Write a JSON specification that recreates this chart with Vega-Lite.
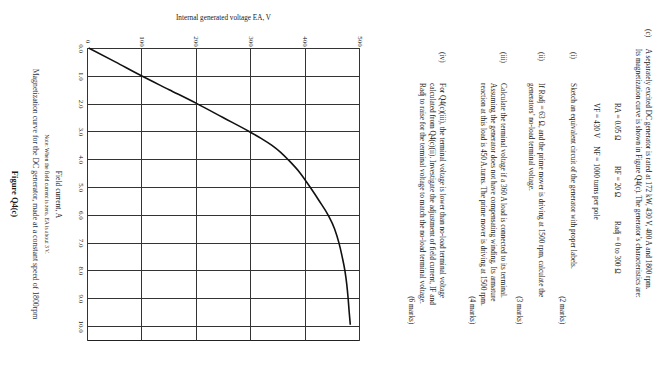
{
  "$schema": "https://vega.github.io/schema/vega-lite/v6.json",
  "background": "white",
  "padding": {"left": 0, "top": 13, "right": 10, "bottom": 5},
  "bounds": "flush",
  "spacing": 7,
  "config": {
    "view": {"stroke": null},
    "font": "Liberation Serif",
    "text": {"font": "Liberation Serif", "color": "#1a1a1a"}
  },
  "hconcat": [
    {
      "width": 80,
      "height": 292,
      "data": {
        "values": [
          {"text": "Figure Q4(c)", "line": 1.5, "kind": "figure"},
          {"text": "Magnetization curve for the DC generator, made at a constant speed of 1800rpm", "line": 3.5, "kind": "caption"},
          {"text": "Note: When the field current is zero, EA is about 3 V.", "line": 4.7, "kind": "note"}
        ]
      },
      "encoding": {
        "x": {"field": "line", "type": "quantitative", "scale": {"domain": [0, 8], "nice": false}, "axis": null},
        "text": {"field": "text", "type": "nominal"}
      },
      "layer": [
        {
          "transform": [{"filter": "datum.kind === 'figure'"}],
          "mark": {"type": "text", "angle": 90, "align": "center", "baseline": "middle", "fontSize": 8.5, "fontWeight": "bold"}
        },
        {
          "transform": [{"filter": "datum.kind === 'caption'"}],
          "mark": {"type": "text", "angle": 90, "align": "center", "baseline": "middle", "fontSize": 7.8, "color": "#2a3550"}
        },
        {
          "transform": [{"filter": "datum.kind === 'note'"}],
          "mark": {"type": "text", "angle": 90, "align": "center", "baseline": "middle", "fontSize": 5.6}
        }
      ]
    },
    {
      "width": 272,
      "height": 292,
      "view": {"stroke": "#222", "strokeWidth": 1},
      "data": {
        "values": [
          {"IF": 0.0, "EA": 3},
          {"IF": 0.5, "EA": 52},
          {"IF": 1.0, "EA": 100},
          {"IF": 1.5, "EA": 151},
          {"IF": 2.0, "EA": 202},
          {"IF": 2.5, "EA": 250},
          {"IF": 3.0, "EA": 298},
          {"IF": 3.25, "EA": 320},
          {"IF": 3.5, "EA": 340},
          {"IF": 3.75, "EA": 356},
          {"IF": 4.0, "EA": 369},
          {"IF": 4.5, "EA": 392},
          {"IF": 5.0, "EA": 410},
          {"IF": 5.5, "EA": 427},
          {"IF": 6.0, "EA": 443},
          {"IF": 6.5, "EA": 455},
          {"IF": 7.0, "EA": 463},
          {"IF": 7.5, "EA": 469},
          {"IF": 8.0, "EA": 474},
          {"IF": 8.5, "EA": 477.5},
          {"IF": 9.0, "EA": 480},
          {"IF": 9.5, "EA": 482},
          {"IF": 9.95, "EA": 484}
        ]
      },
      "mark": {"type": "line", "color": "#111", "strokeWidth": 1.6, "interpolate": "monotone"},
      "encoding": {
        "x": {
          "field": "EA",
          "type": "quantitative",
          "scale": {"domain": [0, 500], "nice": false, "zero": true},
          "axis": {
            "orient": "top",
            "title": "Internal generated voltage EA, V",
            "values": [0, 100, 200, 300, 400, 500],
            "format": "d",
            "labelAngle": 90,
            "labelAlign": "center",
            "labelBaseline": "middle",
            "labelPadding": 7,
            "ticks": false,
            "tickSize": 0,
            "domain": false,
            "grid": true,
            "gridColor": "#333",
            "gridOpacity": 1,
            "gridWidth": 1,
            "labelFont": "Liberation Serif",
            "labelFontSize": 7,
            "labelColor": "#1a1a1a",
            "labelFlush": false,
            "labelOverlap": false,
            "titleFont": "Liberation Serif",
            "titleFontSize": 7.2,
            "titleFontWeight": "normal",
            "titleColor": "#1a1a1a",
            "titlePadding": 14
          }
        },
        "y": {
          "field": "IF",
          "type": "quantitative",
          "scale": {"domain": [0, 10.5], "nice": false, "reverse": true},
          "axis": {
            "orient": "left",
            "title": "Field current, A",
            "values": [0, 1, 2, 3, 4, 5, 6, 7, 8, 9, 10],
            "format": ".1f",
            "labelAngle": 90,
            "labelAlign": "center",
            "labelBaseline": "middle",
            "labelPadding": 7,
            "ticks": false,
            "tickSize": 0,
            "domain": false,
            "grid": true,
            "gridColor": "#333",
            "gridOpacity": 1,
            "gridWidth": 1,
            "labelFont": "Liberation Serif",
            "labelFontSize": 7,
            "labelColor": "#1a1a1a",
            "labelFlush": false,
            "labelOverlap": false,
            "titleFont": "Liberation Serif",
            "titleFontSize": 7.5,
            "titleFontWeight": "normal",
            "titleColor": "#1a1a1a",
            "titleAngle": 90,
            "titleAlign": "center",
            "titleBaseline": "top",
            "titlePadding": 16
          }
        }
      }
    },
    {
      "width": 300,
      "height": 292,
      "data": {
        "values": [
          {"text": "(c)", "line": 1.8, "col": 0, "kind": "text"},
          {"text": "A separately excited DC generator is rated at 172 kW, 430 V, 400 A and 1800 rpm.", "line": 1.8, "col": 6, "kind": "text"},
          {"text": "Its magnetization curve is shown in Figure Q4(c). The generator’s characteristics are:", "line": 2.8, "col": 6, "kind": "text"},
          {"text": "RA = 0.05 Ω", "line": 4.9, "col": 22.4, "kind": "text"},
          {"text": "RF = 20 Ω", "line": 4.9, "col": 41.5, "kind": "text"},
          {"text": "Radj = 0 to 300 Ω", "line": 4.9, "col": 58.2, "kind": "text"},
          {"text": "VF = 430 V", "line": 7.0, "col": 22.4, "kind": "text"},
          {"text": "NF = 1000 turns per pole", "line": 7.0, "col": 35.5, "kind": "text"},
          {"text": "(i)", "line": 9.3, "col": 7, "kind": "text"},
          {"text": "Sketch an equivalent circuit of the generator with proper labels.", "line": 9.3, "col": 16.4, "kind": "text"},
          {"text": "(2 marks)", "line": 10.4, "col": 89.5, "kind": "marks"},
          {"text": "(ii)", "line": 12.5, "col": 7, "kind": "text"},
          {"text": "If Radj = 63 Ω, and the prime mover is driving at 1500 rpm, calculate the", "line": 12.5, "col": 16.4, "kind": "text"},
          {"text": "generators’ no-load terminal voltage.", "line": 13.5, "col": 16.4, "kind": "text"},
          {"text": "(3 marks)", "line": 14.7, "col": 89.5, "kind": "marks"},
          {"text": "(iii)", "line": 16.3, "col": 7, "kind": "text"},
          {"text": "Calculate the terminal voltage if a 360 A load is connected to its terminal.", "line": 16.3, "col": 16.4, "kind": "text"},
          {"text": "Assuming the generator does not have compensating winding. Its armature", "line": 17.3, "col": 16.4, "kind": "text"},
          {"text": "reaction at this load is 450 A.turns. The prime mover is driving at 1500 rpm.", "line": 18.3, "col": 16.4, "kind": "text"},
          {"text": "(4 marks)", "line": 19.4, "col": 89.5, "kind": "marks"},
          {"text": "(iv)", "line": 22.4, "col": 7, "kind": "text"},
          {"text": "For Q4(c)(iii), the terminal voltage is lower than no-load terminal voltage", "line": 22.4, "col": 16.4, "kind": "text"},
          {"text": "calculated from Q4(c)(ii). Investigate the adjustment of field current, IF and", "line": 23.4, "col": 16.4, "kind": "text"},
          {"text": "Radj to raise for the terminal voltage to match the no-load terminal voltage.", "line": 24.4, "col": 16.4, "kind": "text"},
          {"text": "(6 marks)", "line": 25.5, "col": 89.5, "kind": "marks"}
        ]
      },
      "encoding": {
        "x": {"field": "line", "type": "quantitative", "scale": {"domain": [0, 30], "nice": false, "zero": false, "reverse": true}, "axis": null},
        "y": {"field": "col", "type": "quantitative", "scale": {"domain": [0, 90], "range": [-19, 278], "nice": false, "zero": false}, "axis": null},
        "text": {"field": "text", "type": "nominal"}
      },
      "layer": [
        {
          "transform": [{"filter": "datum.kind === 'text'"}],
          "mark": {"type": "text", "angle": 90, "align": "left", "baseline": "middle", "fontSize": 7.3}
        },
        {
          "transform": [{"filter": "datum.kind === 'marks'"}],
          "mark": {"type": "text", "angle": 90, "align": "right", "baseline": "middle", "fontSize": 7.3}
        }
      ]
    }
  ]
}
